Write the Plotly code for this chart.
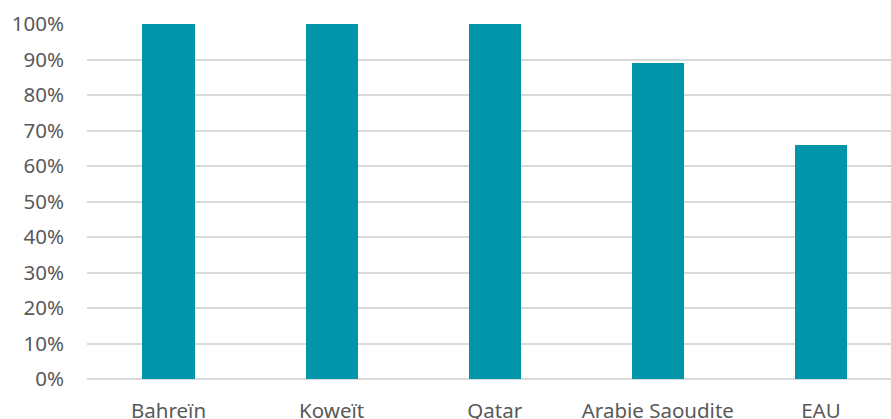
import plotly.graph_objects as go

categories = ["Bahreïn", "Koweït", "Qatar", "Arabie Saoudite", "EAU"]
values = [1.00, 1.00, 1.00, 0.89, 0.66]
y_ticks = [0, 0.1, 0.2, 0.3, 0.4, 0.5, 0.6, 0.7, 0.8, 0.9, 1.0]
y_tick_labels = ["0%", "10%", "20%", "30%", "40%", "50%", "60%", "70%", "80%", "90%", "100%"]

FONT = "Noto Sans, sans-serif"

fig = go.Figure(go.Bar(
    x=categories, y=values, width=0.32,
    marker=dict(color="#0095A8", line=dict(width=0)),
))

fig.update_layout(
    width=891, height=419,
    margin=dict(l=87, r=0, t=24, b=40),
    paper_bgcolor="white", plot_bgcolor="white",
    font=dict(family=FONT, size=20.5, color="#595959"),
    showlegend=False,
    bargap=0,
)
fig.update_xaxes(
    range=[-0.5, 4.43], showgrid=False, zeroline=False, showline=False,
    automargin=False,
    ticks="", ticklabelstandoff=17, tickfont=dict(family=FONT, size=20.5, color="#595959"),
)
fig.update_yaxes(
    range=[0, 1], tickvals=y_ticks, ticktext=y_tick_labels,
    automargin=False,
    showgrid=True, gridcolor="#D9D9D9", gridwidth=1.5,
    zeroline=True, zerolinecolor="#D9D9D9", zerolinewidth=1.5,
    showline=False, ticks="", ticklabelstandoff=22,
    tickfont=dict(family=FONT, size=20.5, color="#595959"),
)

fig.write_html("out.html")
